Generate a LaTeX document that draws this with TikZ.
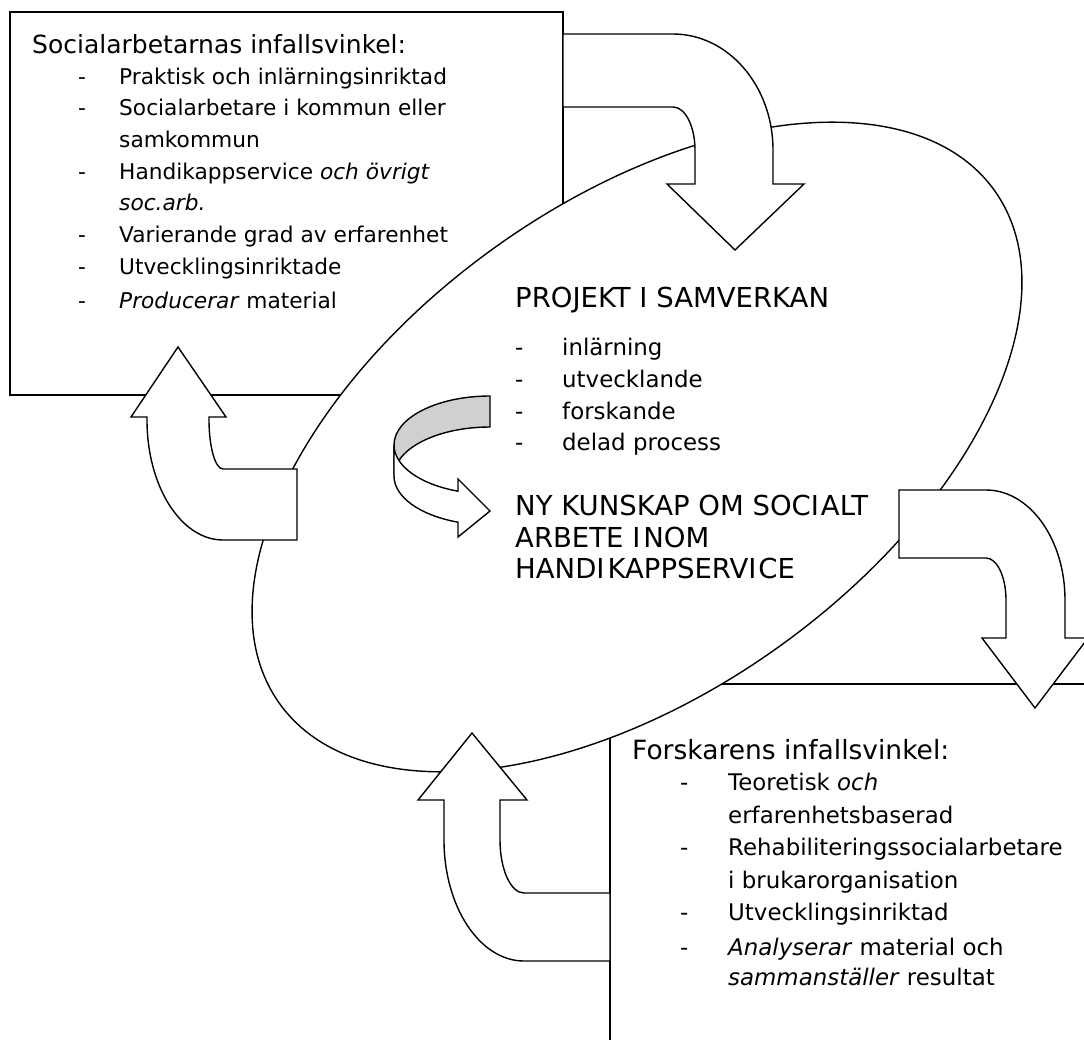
\documentclass[tikz,border=0pt]{standalone}
\usepackage{fontspec}
\setmainfont{DejaVu Sans}
\usetikzlibrary{shapes.geometric}
\definecolor{ribbon}{RGB}{208,208,208}
\begin{document}
\begin{tikzpicture}[x=1pt,y=-1pt,
  frame/.style={draw, fill=white, line width=1.4pt},
  blockarrow/.style={draw, fill=white, line width=1.4pt, line join=miter, miter limit=10},
  hd/.style={anchor=base west, inner sep=0pt, font=\fontsize{26.5}{32}\selectfont},
  hdl/.style={anchor=base west, inner sep=0pt, font=\fontsize{25}{30}\selectfont},
  hdc/.style={anchor=base west, inner sep=0pt, font=\fontsize{27.5}{32}\selectfont},
  itm/.style={anchor=base west, inner sep=0pt, font=\fontsize{22.9}{28}\selectfont},
  itl/.style={anchor=base west, inner sep=0pt, font=\fontsize{21.7}{27}\selectfont}]
\useasboundingbox (0,0) rectangle (1084,1039);
\clip (0,0) rectangle (1084,1039);
\path[fill=white] (0,0) rectangle (1084,1039);
% boxes
\draw[frame] (10,12) rectangle (563,395);
\draw[frame] (610,684) rectangle (1100,1050);
% central cycle
\node[frame, ellipse, minimum width=880pt, minimum height=490pt, inner sep=0pt, rotate=35.7] (cycle) at (637,447) {};
% arrow A (top right)
\draw[blockarrow] (563,34) -- (673,34) .. controls (728.2,34) and (773,85.9) .. (773,150)
  -- (773,184) -- (804,184) -- (735,250) -- (667,184) -- (695,184) -- (695,150)
  .. controls (695,126.3) and (685.2,107) .. (673,107) -- (563,107) -- cycle;
% arrow B (right)
\draw[blockarrow] (899,490) -- (986,490) .. controls (1029.6,490) and (1065,539.2) .. (1065,600)
  -- (1065,638) -- (1088,638) -- (1035,708) -- (982,638) -- (1006,638) -- (1006,600)
  .. controls (1006,576.8) and (997,558) .. (986,558) -- (899,558) -- cycle;
% arrow C (bottom)
\draw[blockarrow] (610,961) -- (524,961) .. controls (479.8,961) and (444,906.8) .. (444,840)
  -- (444,800) -- (418,800) -- (472,733) -- (527,800) -- (500,800) -- (500,840)
  .. controls (500,869.3) and (510.7,893) .. (524,893) -- (610,893) -- cycle;
% arrow D (left)
\draw[blockarrow] (297,540) -- (223,540) .. controls (181,540) and (147,486.3) .. (147,420)
  -- (147,417) -- (131,417) -- (178,347) -- (226,417) -- (209,417) -- (209,420)
  .. controls (209,447.1) and (215.3,469) .. (223,469) -- (297,469) -- cycle;
% ribbon arrow in the middle
\draw[blockarrow, fill=ribbon] (490,396) arc[start angle=90, end angle=180, x radius=96pt, y radius=49pt]
  -- (394,476) arc[start angle=180, end angle=90, x radius=96pt, y radius=49pt] -- cycle;
\draw[blockarrow] (394,445) arc[start angle=180, end angle=250.53, x radius=96pt, y radius=49pt]
  -- (458,479) -- (490,511) -- (458,537) -- (458,522.2)
  arc[start angle=250.53, end angle=180, x radius=96pt, y radius=49pt] -- cycle;
% texts: social workers
\node[hdl] (sh) at (32,53) {Socialarbetarnas infallsvinkel:};
\node[itl] (sd1) at (78,84) {-};
\node[itl] (s1) at (119,84) {Praktisk och inlärningsinriktad};
\node[itl] (sd2) at (78,115) {-};
\node[itl] (s2) at (119,115) {Socialarbetare i kommun eller};
\node[itl] (s2b) at (119,147) {samkommun};
\node[itl] (sd3) at (78,179) {-};
\node[itl] (s3) at (119,179) {Handikappservice \textit{och övrigt}};
\node[itl] (s3b) at (119,210) {\textit{soc.arb.}};
\node[itl] (sd4) at (78,242) {-};
\node[itl] (s4) at (119,242) {Varierande grad av erfarenhet};
\node[itl] (sd5) at (78,274) {-};
\node[itl] (s5) at (119,274) {Utvecklingsinriktade};
\node[itl] (sd6) at (78,308) {-};
\node[itl] (s6) at (119,308) {\textit{Producerar} material};
% texts: project
\node[hdc] (ph) at (515,307) {PROJEKT I SAMVERKAN};
\node[itm] (pd1) at (515,355) {-};
\node[itm] (p1) at (562,355) {inlärning};
\node[itm] (pd2) at (515,387) {-};
\node[itm] (p2) at (562,387) {utvecklande};
\node[itm] (pd3) at (515,419) {-};
\node[itm] (p3) at (562,419) {forskande};
\node[itm] (pd4) at (515,450) {-};
\node[itm] (p4) at (562,450) {delad process};
\node[hdc] (nk1) at (515,515) {NY KUNSKAP OM SOCI\kern2pt ALT};
\node[hdc] (nk2) at (515,547) {ARBETE I\kern3pt NOM};
\node[hdc] (nk3) at (515,578) {HANDI\kern3pt KAPPSERVI\kern2pt CE};
% texts: researcher
\node[hd] (fh) at (632,759) {Forskarens infallsvinkel:};
\node[itm] (fd1) at (680,790) {-};
\node[itm] (f1) at (728,790) {Teoretisk \textit{och}};
\node[itm] (f1b) at (728,823) {erfarenhetsbaserad};
\node[itm] (fd2) at (680,855) {-};
\node[itm] (f2) at (728,855) {Rehabiliteringssocialarbetare};
\node[itm] (f2b) at (728,888) {i brukarorganisation};
\node[itm] (fd3) at (680,920) {-};
\node[itm] (f3) at (728,920) {Utvecklingsinriktad};
\node[itm] (fd4) at (680,955) {-};
\node[itm] (f4) at (728,955) {\textit{Analyserar} material och};
\node[itm] (f4b) at (728,985) {\textit{sammanställer} resultat};
\end{tikzpicture}
\end{document}
